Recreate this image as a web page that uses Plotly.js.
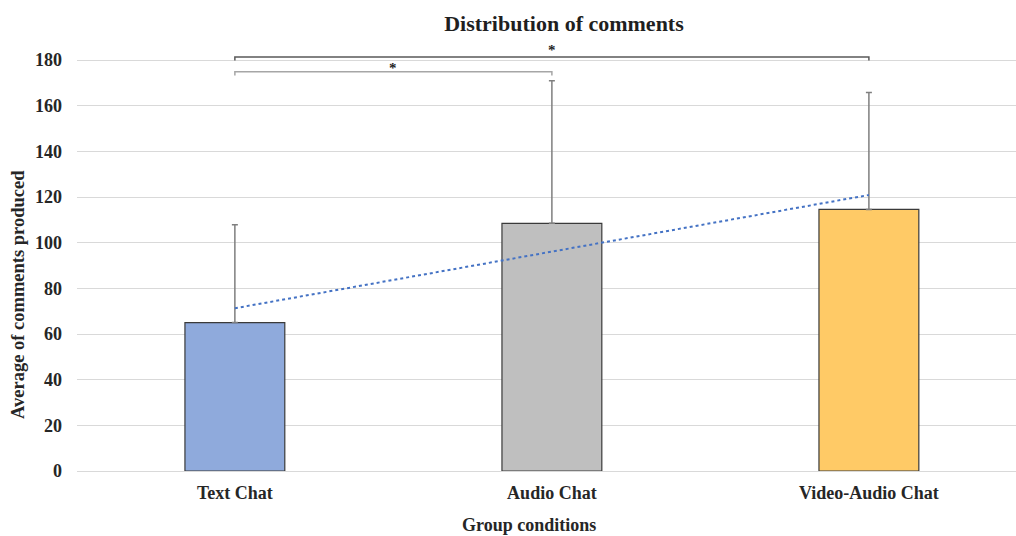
<!DOCTYPE html>
<html>
<head>
<meta charset="utf-8">
<script src="https://cdn.plot.ly/plotly-3.0.1.min.js"></script>
<style>html,body{margin:0;padding:0;background:#fff;}#chart{width:1016px;height:536px;}</style>
</head>
<body>
<div id="chart"></div>
<script>
const categories = ["Text Chat", "Audio Chat", "Video-Audio Chat"];
const means = [65, 108.5, 114.6];
const errorsPlus = [42.9, 62.4, 51.2];
const trendValues = [71.3, 96.1, 120.9];
const barColors = ["#8FAADC", "#BFBFBF", "#FFCA66"];
const yTicks = [0, 20, 40, 60, 80, 100, 120, 140, 160, 180];
// significance brackets: [from category index, to category index, bracket level, label level, label]
const sigFrom = [0, 0];
const sigTo = [2, 1];
const sigLevel = [181.4, 174.9];
const sigLabelLevel = [185.3, 177.4];
const sigLabel = ["*", "*"];

const font = "Liberation Serif, Times New Roman, serif";

const traces = [
  {
    type: "bar",
    x: [0, 1, 2],
    y: means,
    width: 0.315,
    marker: {color: barColors, line: {color: "#3A3A3A", width: 1.2}},
    error_y: {type: "data", symmetric: false, array: errorsPlus, arrayminus: [0, 0, 0],
              color: "#7F7F7F", thickness: 1.5, width: 3},
    hoverinfo: "y",
    showlegend: false
  },
  {
    type: "scatter",
    mode: "lines",
    x: [0, 1, 2],
    y: trendValues,
    line: {color: "#4472C4", width: 2, dash: "dot"},
    hoverinfo: "skip",
    showlegend: false
  }
];

const shapes = [];
const annotations = [];
const bracketColors = ["#595959", "#A6A6A6"];
for (let i = 0; i < sigFrom.length; i++) {
  const a = sigFrom[i], b = sigTo[i], h = sigLevel[i];
  shapes.push({type: "path", xref: "x", yref: "y",
    path: `M ${a},${h - 1.6} L ${a},${h} L ${b},${h} L ${b},${h - 1.6}`,
    line: {color: bracketColors[i], width: 1.5}});
  annotations.push({xref: "x", yref: "y", x: (a + b) / 2, y: sigLabelLevel[i], yanchor: "middle",
    yshift: -2,
    text: "<b>" + sigLabel[i] + "</b>", showarrow: false, font: {family: font, size: 15, color: "#1F1F1F"}});
}
annotations.push({xref: "paper", yref: "paper", x: (529 - 77) / 939, xanchor: "center",
  y: -(525 - 471) / 431, yanchor: "middle", showarrow: false,
  text: "<b>Group conditions</b>", font: {family: font, size: 18, color: "#262626"}});
annotations.push({xref: "paper", yref: "paper", x: -(77 - 18) / 939, xanchor: "center",
  y: (471 - 295) / 431, yanchor: "middle", showarrow: false, textangle: -90,
  text: "<b>Average of comments produced</b>", font: {family: font, size: 18.5, color: "#262626"}});

const layout = {
  width: 1016, height: 536,
  margin: {l: 77, r: 0, t: 40, b: 65},
  paper_bgcolor: "#ffffff", plot_bgcolor: "#ffffff",
  title: {text: "<b>Distribution of comments</b>", font: {family: font, size: 22, color: "#1F1F1F"},
          xref: "paper", x: (564 - 77) / 939, xanchor: "center", yref: "container", y: 1 - 23 / 536, yanchor: "middle"},
  xaxis: {range: [-0.498, 2.464], tickvals: [0, 1, 2], ticktext: categories.map(c => "<b>" + c + "</b>"),
          tickfont: {family: font, size: 18, color: "#262626"}, showgrid: false, zeroline: false,
          showline: false, ticks: "", ticklabelstandoff: 9, fixedrange: true},
  yaxis: {range: [0, 188.8], tickvals: yTicks, ticktext: yTicks.map(v => "<b>" + v + "</b>"),
          tickfont: {family: font, size: 18, color: "#262626"}, showgrid: true, gridcolor: "#D9D9D9",
          gridwidth: 1, zeroline: true, zerolinecolor: "#D9D9D9", zerolinewidth: 1,
          showline: false, ticks: "", ticklabelstandoff: 14, fixedrange: true},
  shapes: shapes,
  annotations: annotations,
  bargap: 0.685
};

Plotly.newPlot("chart", traces, layout, {displayModeBar: false, staticPlot: true});
</script>
</body>
</html>
